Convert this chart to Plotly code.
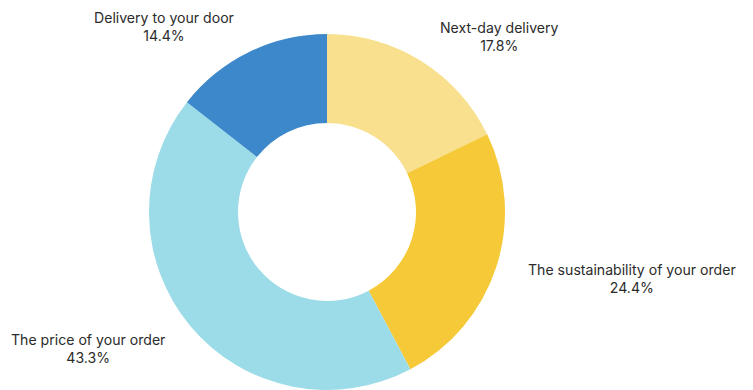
import math
import plotly.graph_objects as go

# Survey shares (percent), clockwise from 12 o'clock
categories = ["Next-day delivery", "The sustainability of your order",
              "The price of your order", "Delivery to your door"]
shares = [17.8, 24.4, 43.3, 14.4]
colors = ["#F8E08E", "#F5C937", "#9CDCE8", "#3D88CB"]

W, H = 753, 390
CX, CY, R = 327, 212, 178  # pie centre and radius in px
LABEL_R = 209               # radius where labels are anchored
LABEL_CY = CY + 2           # vertical centre used for label placement

fig = go.Figure(go.Pie(
    labels=categories,
    values=shares,
    hole=0.5,
    sort=False,
    direction="clockwise",
    rotation=0,
    marker=dict(colors=colors, line=dict(width=0)),
    textinfo="none",
    hoverinfo="label+percent",
    showlegend=False,
    domain=dict(x=[(CX - R) / W, (CX + R) / W], y=[0, 2 * R / H]),
))

# outside labels placed along each slice's mid-angle
total = sum(shares)
acc = 0.0
annotations = []
for name, v in zip(categories, shares):
    mid = (acc + v / 2) / total * 2 * math.pi
    acc += v
    px = CX + LABEL_R * math.sin(mid)
    py = LABEL_CY - LABEL_R * math.cos(mid)
    right_side = math.sin(mid) >= 0
    annotations.append(dict(
        x=px / W, y=1 - py / H, xref="paper", yref="paper",
        text=f"{name}<br>{v:.1f}%",
        showarrow=False, align="center",
        xanchor="left" if right_side else "right", yanchor="middle",
        font=dict(family="Inter, Noto Sans, sans-serif", size=14.1, color="#2b2b2b"),
    ))

fig.update_layout(
    width=W, height=H,
    margin=dict(l=0, r=0, t=0, b=0),
    paper_bgcolor="white", plot_bgcolor="white",
    annotations=annotations,
)

fig.write_html("out.html")
